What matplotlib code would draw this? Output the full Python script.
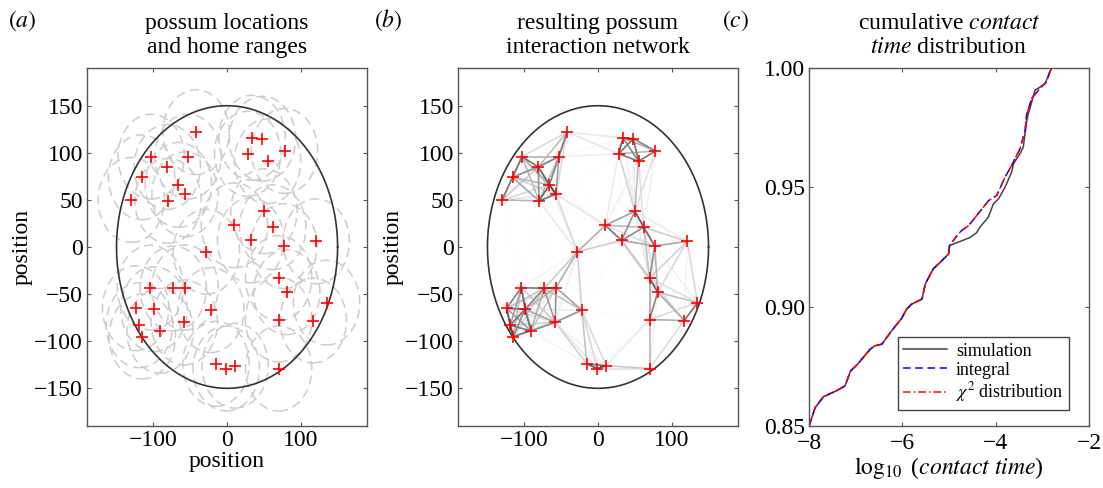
import numpy as np
import matplotlib
matplotlib.use('Agg')
import matplotlib.pyplot as plt
from matplotlib.patches import Circle

plt.rcParams['font.family'] = 'serif'
plt.rcParams['font.serif'] = ['Liberation Serif', 'DejaVu Serif']
plt.rcParams['mathtext.fontset'] = 'stix'
plt.rcParams['font.size'] = 17

# possum positions (x, y)
possum_x = [-42, 34, 48, 28, 78, 55, -103, -53, -81, -116, -66, -57, -130, -80,
            50, 10, 62, 32, 77, 121, -28, 70, 81, -104, -73, -57, -124, -99,
            -22, 135, -58, 70, 117, -119, -91, -115, -15, -1, 11, 70]
possum_y = [122, 116, 115, 99, 102, 91, 96, 96, 85, 74, 66, 56, 50, 49,
            38, 23, 21, 7, 1, 6, -5, -33, -48, -43, -44, -43, -65, -66,
            -67, -59, -80, -77, -78, -83, -89, -95, -124, -129, -126, -129]
home_range = 45      # home range radius
region_radius = 150  # boundary of the habitat

# cumulative contact time distribution (panel c)
chi_x = [-8.0, -7.87, -7.69, -7.42, -7.23, -7.11, -6.96, -6.69, -6.59, -6.44, -6.23,
         -6.01, -5.91, -5.80, -5.58, -5.51, -5.34, -5.19, -5.01, -4.99, -4.83, -4.73,
         -4.58, -4.15, -3.98, -3.80, -3.66, -3.48, -3.37, -3.34, -3.23, -3.05, -2.91,
         -2.84, -2.80]
chi_y = [0.850, 0.8577, 0.8623, 0.8647, 0.8668, 0.8731, 0.8759, 0.8822, 0.8836, 0.8843,
         0.8899, 0.8953, 0.8990, 0.9011, 0.9032, 0.9095, 0.9158, 0.9186, 0.9221, 0.9256,
         0.9298, 0.9319, 0.9340, 0.9445, 0.9466, 0.9543, 0.9592, 0.9662, 0.9739, 0.9803,
         0.9873, 0.9915, 0.9942, 0.9984, 1.0]
sim_x = chi_x[:20] + [-4.55, -4.41, -4.34, -4.16, -4.05, -3.94, -3.80, -3.66, -3.62,
                      -3.48, -3.41, -3.34, -3.30, -3.23, -3.16, -3.09, -2.94, -2.87, -2.80]
sim_y = chi_y[:20] + [0.9290, 0.9310, 0.9333, 0.9375, 0.9431, 0.9452, 0.9501, 0.9564,
                      0.9599, 0.9641, 0.9669, 0.9775, 0.9810, 0.9857, 0.9908, 0.9915,
                      0.9936, 0.9971, 1.0]
integral_x = chi_x
integral_y = chi_y

fig = plt.figure(figsize=(11.03, 4.88), dpi=100)
ax1 = fig.add_axes([0.0789, 0.127, 0.2539, 0.7336])
ax2 = fig.add_axes([0.4152, 0.127, 0.2539, 0.7336])
ax3 = fig.add_axes([0.7335, 0.127, 0.2539, 0.7336])

spine_col = '#555555'
for ax in (ax1, ax2, ax3):
    ax.tick_params(direction='in', top=True, right=True, length=3, width=0.8, pad=3,
                   colors=spine_col, labelcolor='black', labelsize=17)
    for s in ax.spines.values():
        s.set_color(spine_col)
        s.set_linewidth(1.0)
ax3.tick_params(axis='x', pad=5)

t = np.linspace(0, 2 * np.pi, 400)
px = np.array(possum_x)
py = np.array(possum_y)

# ---------------- (a) locations + home ranges
for x, y in zip(possum_x, possum_y):
    ax1.add_patch(Circle((x, y), home_range, fill=False, ec='#cccccc', lw=1.1,
                         ls=(0, (6, 3.5))))
ax1.plot(region_radius * np.cos(t), region_radius * np.sin(t), color='#333333', lw=1.2)
ax1.plot(px, py, '+', color='red', ms=9, mew=1.2)

# ---------------- (b) interaction network from home range overlap
d = np.hypot(px[:, None] - px[None, :], py[:, None] - py[None, :])
R = 50.0
edges = []
for i in range(len(px)):
    for j in range(i + 1, len(px)):
        if d[i, j] < 2 * R:
            dd = d[i, j]
            area = 2 * R**2 * np.arccos(dd / (2 * R)) - dd / 2 * np.sqrt(4 * R**2 - dd**2)
            f = area / (np.pi * R**2)
            edges.append((f, i, j))
edges.sort()
for f, i, j in edges:
    g = 1 - 0.85 * f**1.15
    ax2.plot([px[i], px[j]], [py[i], py[j]], color=(g, g, g), lw=1.2)
ax2.plot(region_radius * np.cos(t), region_radius * np.sin(t), color='#333333', lw=1.2)
ax2.plot(px, py, '+', color='red', ms=9, mew=1.2)

for ax in (ax1, ax2):
    ax.set_xlim(-190, 190)
    ax.set_ylim(-190, 190)
    ax.set_xticks([-100, 0, 100])
    ax.set_yticks([-150, -100, -50, 0, 50, 100, 150])
    ax.set_ylabel('position', labelpad=1)
ax1.set_xlabel('position', labelpad=0)

ax1.set_title('possum locations\nand home ranges', fontsize=17, pad=11, linespacing=1.2)
ax2.set_title('resulting possum\ninteraction network', fontsize=17, pad=11, linespacing=1.2)

# ---------------- (c) cumulative contact time
ax3.plot(sim_x, sim_y, color='#444444', lw=1.1, label='simulation')
ax3.plot(integral_x, integral_y, color='blue', lw=1.1, ls=(0, (5, 3)), label='integral')
ax3.plot(chi_x, chi_y, color='red', lw=1.1, ls=(0, (5, 2, 1, 2)), label=r'$\chi^2$ distribution')
ax3.set_xlim(-8, -2)
ax3.set_ylim(0.85, 1.0)
ax3.set_xticks([-8, -6, -4, -2])
ax3.set_yticks([0.85, 0.90, 0.95, 1.00])
ax3.set_yticklabels(['0.85', '0.90', '0.95', '1.00'])
ax3.set_xlabel(r'$\log_{10}$ ($\mathit{contact\ time}$)', labelpad=1)
ax3.set_title('cumulative $\\mathit{contact}$\n$\\mathit{time}$ distribution', fontsize=17,
              pad=11, linespacing=1.2)
leg = ax3.legend(loc='lower right', bbox_to_anchor=(0.96, 0.02), fontsize=13,
                 fancybox=False, framealpha=1, edgecolor='#444444', handlelength=2.4,
                 labelspacing=0.1, borderpad=0.3, handletextpad=0.5)
leg.get_frame().set_linewidth(1.0)

fig.text(0.007, 0.945, r'$(\mathit{a})$', fontsize=17)
fig.text(0.339, 0.945, r'$(\mathit{b})$', fontsize=17)
fig.text(0.655, 0.945, r'$(\mathit{c})$', fontsize=17)

fig.savefig('out.png', dpi=100)
